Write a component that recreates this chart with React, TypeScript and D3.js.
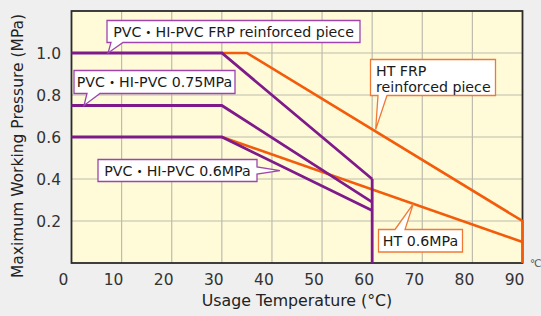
import React from "react";
import * as d3 from "d3";

const xTicks = [0, 10, 20, 30, 40, 50, 60, 70, 80, 90];
const yTicks = [0.2, 0.4, 0.6, 0.8, 1.0];

const pvcFrp: [number, number][] = [[0, 1.0], [30, 1.0], [60, 0.4]];
const pvc075: [number, number][] = [[0, 0.75], [30, 0.75], [60, 0.29]];
const pvc06: [number, number][] = [[0, 0.6], [30, 0.6], [60, 0.25]];
const pvcCutoff: [number, number][] = [[60, 0.4], [60, 0]];
const htFrp: [number, number][] = [[30, 1.0], [35, 1.0], [90, 0.2], [90, 0]];
const ht06: [number, number][] = [[30, 0.6], [90, 0.1]];

const W = 541, H = 316;
const L = 71.5, R = 522.5, T = 11, B = 263;
const PURPLE = "#7f1a8a";
const ORANGE = "#f25c0a";
const PURPLE_BORDER = "#9d45ad";
const ORANGE_BORDER = "#f07a35";
const FONT = "'DejaVu Sans', 'Noto Sans CJK JP', sans-serif";

type Callout = {
  lines: string[];
  x: number; y: number; w: number; h: number;
  side: "bottom" | "top" | "right";
  b1: number; b2: number;
  tip: [number, number];
  color: string;
};

export default function App() {
  const x = d3.scaleLinear().domain([0, 90]).range([L, R]);
  const y = d3.scaleLinear().domain([0, 1.2]).range([B, T]);
  const line = d3.line<[number, number]>().x(d => x(d[0])).y(d => y(d[1]));

  const callouts: Callout[] = [
    { lines: ["PVC・HI-PVC FRP reinforced piece"], x: 107, y: 20.5, w: 253, h: 22, side: "bottom", b1: 111, b2: 123, tip: [7.3, 1.0], color: PURPLE_BORDER },
    { lines: ["PVC・HI-PVC 0.75MPa"], x: 74, y: 70.5, w: 161, h: 23, side: "bottom", b1: 87, b2: 100, tip: [2.5, 0.75], color: PURPLE_BORDER },
    { lines: ["PVC・HI-PVC 0.6MPa"], x: 98, y: 159.5, w: 159, h: 22, side: "right", b1: 167, b2: 174, tip: [41.6, 0.44], color: PURPLE_BORDER },
    { lines: ["HT FRP", "reinforced piece"], x: 370.5, y: 59.5, w: 125, h: 36, side: "bottom", b1: 378, b2: 387, tip: [60.7, 0.636], color: ORANGE_BORDER },
    { lines: ["HT 0.6MPa"], x: 378.5, y: 229.5, w: 84, h: 22.5, side: "top", b1: 395, b2: 405, tip: [68.2, 0.282], color: ORANGE_BORDER },
  ];

  const calloutPath = (c: Callout) => {
    const tx = x(c.tip[0]), ty = y(c.tip[1]);
    const x0 = c.x, y0 = c.y, x1 = c.x + c.w, y1 = c.y + c.h;
    if (c.side === "bottom") {
      return `M${x0},${y0}H${x1}V${y1}H${c.b2}L${tx},${ty}L${c.b1},${y1}H${x0}Z`;
    }
    if (c.side === "top") {
      return `M${x0},${y0}H${c.b1}L${tx},${ty}L${c.b2},${y0}H${x1}V${y1}H${x0}Z`;
    }
    return `M${x0},${y0}H${x1}V${c.b1}L${tx},${ty}L${x1},${c.b2}V${y1}H${x0}Z`;
  };

  return (
    <svg width={W} height={H} style={{ position: "absolute", left: 0, top: 0 }} fontFamily={FONT}>
      <rect x={0} y={0} width={W} height={H} fill="#efefef" />
      <rect x={L} y={T} width={R - L} height={B - T} fill="#fffbd8" />
      {xTicks.filter(t => t > 0 && t < 90).map(t => (
        <line key={"gx" + t} x1={x(t)} x2={x(t)} y1={T} y2={B} stroke="#bdbcae" strokeWidth={1.2} />
      ))}
      {yTicks.map(t => (
        <line key={"gy" + t} x1={L} x2={R} y1={y(t)} y2={y(t)} stroke="#bdbcae" strokeWidth={1.2} />
      ))}
      <rect x={L} y={T} width={R - L} height={B - T} fill="none" stroke="#2b2b2b" strokeWidth={1.8} />

      <path d={line(htFrp) || ""} fill="none" stroke={ORANGE} strokeWidth={2.6} />
      <path d={line(ht06) || ""} fill="none" stroke={ORANGE} strokeWidth={2.6} />
      <path d={line(pvcFrp) || ""} fill="none" stroke={PURPLE} strokeWidth={2.8} />
      <path d={line(pvc075) || ""} fill="none" stroke={PURPLE} strokeWidth={2.8} />
      <path d={line(pvc06) || ""} fill="none" stroke={PURPLE} strokeWidth={2.8} />
      <path d={line(pvcCutoff) || ""} fill="none" stroke={PURPLE} strokeWidth={2.8} />

      {callouts.map((c, i) => {
        const multi = c.lines.length > 1;
        return (
          <g key={"c" + i}>
            <path d={calloutPath(c)} fill="#ffffff" stroke={c.color} strokeWidth={1.3} strokeLinejoin="miter" />
            {c.lines.map((s, j) => (
              <text key={j} x={multi ? c.x + 5.5 : c.x + c.w / 2} y={c.y + 16.2 + j * 16.5}
                textAnchor={multi ? "start" : "middle"} fontSize={14.2} fill="#1a1a1a">{s}</text>
            ))}
          </g>
        );
      })}

      {yTicks.map(t => (
        <text key={"yl" + t} x={61} y={y(t) + 5.5} textAnchor="end" fontSize={15.5} fill="#333">{t.toFixed(1)}</text>
      ))}
      {xTicks.map(t => (
        <text key={"xl" + t} x={x(t) - 8} y={285} textAnchor="middle" fontSize={15.5} fill="#333">{t}</text>
      ))}
      <text x={530} y={267} fontSize={10.5} fill="#555">℃</text>
      <text x={297} y={306} textAnchor="middle" fontSize={15.8} fill="#222">Usage Temperature (°C)</text>
      <text transform="translate(22.5,146) rotate(-90)" textAnchor="middle" fontSize={15.5} fill="#222">Maximum Working Pressure (MPa)</text>
    </svg>
  );
}
